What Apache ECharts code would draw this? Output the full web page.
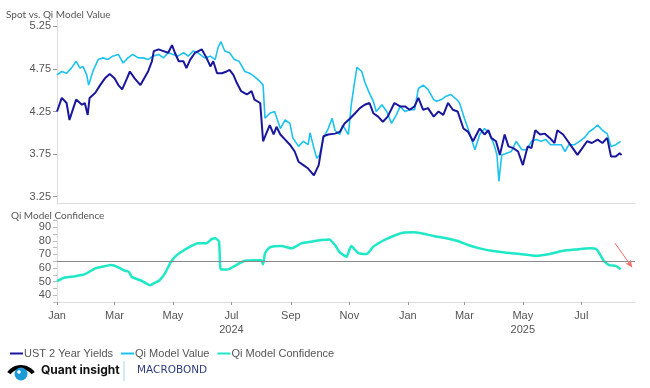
<!DOCTYPE html>
<html>
<head>
<meta charset="utf-8">
<script src="https://cdn.jsdelivr.net/npm/echarts@6/dist/echarts.min.js"></script>
<style>html,body{margin:0;padding:0;background:#fff}#c{width:650px;height:388px}</style>
</head>
<body>
<div id="c"></div>
<script>
// Days since 2024-01-01 and values
const ustDay = [0,5,10,13,17,20,26,29,32,34,40,45,50,55,60,64,68,73,76,81,87,90,95,99,101,106,111,116,120,123,127,132,135,139,144,151,156,160,163,167,172,177,180,184,187,192,198,203,206,212,215,219,222,226,229,233,238,243,248,252,257,262,268,273,278,283,290,295,300,306,311,316,321,326,330,335,340,345,352,358,363,368,373,377,382,387,393,398,403,408,413,418,424,429,434,441,446,450,453,458,462,467,471,476,481,486,491,495,499,504,509,514,519,522,528,533,538,543,548,553,558,564,569,574,578,583,587,589];
const ustVal = [4.25,4.41,4.35,4.15,4.29,4.39,4.33,4.35,4.21,4.41,4.47,4.56,4.64,4.69,4.64,4.56,4.51,4.64,4.72,4.64,4.56,4.62,4.72,4.84,4.96,4.98,4.96,4.94,5.03,4.94,4.84,4.84,4.76,4.86,4.94,4.98,4.88,4.78,4.84,4.70,4.70,4.72,4.74,4.68,4.60,4.49,4.45,4.49,4.39,4.35,3.90,4.01,4.09,3.98,4.07,3.98,3.92,3.86,3.78,3.66,3.62,3.58,3.50,3.62,3.96,3.98,3.99,4.01,4.11,4.17,4.23,4.29,4.33,4.35,4.23,4.19,4.13,4.19,4.35,4.31,4.31,4.27,4.31,4.41,4.27,4.29,4.19,4.25,4.21,4.35,4.27,4.25,4.05,4.01,3.90,4.05,3.98,4.03,3.94,3.90,3.74,3.98,3.84,3.82,3.78,3.62,3.84,3.82,4.03,3.98,3.99,3.94,3.88,4.03,3.98,3.90,3.82,3.74,3.82,3.90,3.88,3.92,3.88,3.94,3.72,3.72,3.76,3.74];

const qiDay = [0,5,10,15,20,24,27,31,33,38,43,48,53,58,64,69,74,79,85,90,95,100,106,111,116,121,126,132,137,142,147,154,160,165,168,171,175,180,185,190,196,201,206,212,215,217,222,227,233,238,243,246,252,257,262,264,268,271,274,278,283,287,290,295,298,304,307,310,313,318,321,325,330,333,339,344,349,354,358,363,368,373,377,382,387,393,396,401,406,411,417,420,425,430,436,441,446,451,456,459,461,464,469,474,479,485,490,495,500,505,510,515,521,526,530,534,540,545,550,555,560,564,569,574,578,583,588];
const qiVal = [4.68,4.72,4.70,4.76,4.84,4.76,4.78,4.68,4.56,4.74,4.86,4.88,4.86,4.90,4.92,4.82,4.88,4.92,4.88,4.88,4.86,4.90,4.92,4.88,4.94,4.92,4.90,4.94,4.90,4.96,4.94,4.88,4.90,4.86,5.00,5.07,4.96,4.94,4.86,4.84,4.72,4.70,4.66,4.60,4.56,4.17,4.23,4.25,4.05,4.15,4.11,3.94,3.84,3.90,3.86,4.00,3.82,3.70,3.74,3.94,4.05,4.17,4.03,3.98,4.09,3.98,4.33,4.56,4.77,4.72,4.60,4.49,4.37,4.25,4.33,4.25,4.11,4.21,4.31,4.25,4.27,4.27,4.52,4.56,4.51,4.39,4.37,4.39,4.43,4.45,4.39,4.35,4.17,4.01,3.80,3.98,4.05,3.99,3.86,3.74,3.43,3.74,3.76,3.78,3.90,3.80,3.80,3.90,3.92,3.90,3.92,3.86,3.86,3.86,3.78,3.86,3.86,3.90,3.94,4.01,4.05,4.09,4.03,3.99,3.84,3.86,3.90];

const confDay = [0,8,19,29,40,50,57,64,71,75,78,87,92,97,102,107,113,118,123,130,139,147,156,161,165,169,171,178,187,196,206,213,215,217,222,234,245,255,265,276,284,290,295,299,302,307,314,323,330,340,351,361,372,380,393,406,417,429,441,455,469,483,500,514,528,542,556,563,570,576,583,588];
const confVal = [50.3,53,54,55.5,59.7,61.4,62.2,60.5,58,57.2,53.5,51,49.1,47.4,49.1,51,56.5,63.4,68.3,72,75.7,78.2,78.2,81.1,81.9,79.4,59,59,62.2,65.4,65.8,65.8,62.7,70.8,75.2,76.2,74.5,78.2,79.4,80.6,81.1,77,71.5,69.5,68.3,76.2,71.2,70.3,75.7,80.1,83.6,86,86.3,85.6,83.6,81.9,80.1,77,74.5,72.5,71.2,70.3,69,70.3,72.7,73.7,74.5,73.7,65.8,62.2,61.6,59];

const confThreshold = 65;
const arrowFrom = [582, 78.4];
const arrowTo = [600, 60.5];

const topTicks = [3.25, 3.75, 4.25, 4.75, 5.25];
const monthNames = ['Jan','Feb','Mar','Apr','May','Jun','Jul','Aug','Sep','Oct','Nov','Dec'];
const yearLabelAt = {'2024-07': '2024', '2025-05': '2025'};
const nDays = 604;

const base = Date.UTC(2024, 0, 1);
const categories = [];
for (let i = 0; i < nDays; i++) {
  const d = new Date(base + i * 86400000);
  categories.push(d.toISOString().slice(0, 10));
}
function isTickDay(idx) {
  const s = categories[idx];
  const m = +s.slice(5, 7);
  return s.slice(8, 10) === '01' && (m % 2 === 1);
}
const pairs = (days, vals) => days.map((d, i) => [d, vals[i]]);

const C_UST = '#1a179e';
const C_QI = '#1ec2ef';
const C_CONF = '#1fe8c6';
const LBL = '#555';
const FONT = 'Liberation Sans, Arial, sans-serif';

const chart = echarts.init(document.getElementById('c'), null, {renderer: 'canvas'});
chart.setOption({
  animation: false,
  title: [
    {text: 'Spot vs. Qi Model Value', left: 1, top: 5, textStyle: {fontSize: 10, fontWeight: 'normal', color: '#555', fontFamily: 'Lato, Noto Sans, sans-serif'}},
    {text: 'Qi Model Confidence', left: 6, top: 206, textStyle: {fontSize: 10, fontWeight: 'normal', color: '#555', fontFamily: 'Lato, Noto Sans, sans-serif'}}
  ],
  grid: [
    {left: 57, right: 15, top: 20, height: 183},
    {left: 57, right: 15, top: 220.5, height: 81.5}
  ],
  legend: {
    left: 5, top: 343, itemWidth: 13, itemHeight: 2, itemGap: 8,
    icon: 'rect',
    textStyle: {fontSize: 11, color: LBL, fontFamily: FONT, padding: [0, 0, 0, -4]},
    data: ['UST 2 Year Yields', 'Qi Model Value', 'Qi Model Confidence']
  },
  xAxis: [
    {type: 'category', gridIndex: 0, data: categories, boundaryGap: false,
     axisLine: {show: true, lineStyle: {color: '#ddd'}}, axisTick: {show: false}, axisLabel: {show: false}, splitLine: {show: false}},
    {type: 'category', gridIndex: 1, data: categories, boundaryGap: false,
     axisLine: {show: true, lineStyle: {color: '#ddd'}},
     axisTick: {show: true, length: 3, lineStyle: {color: '#999'}, interval: (i) => isTickDay(i)},
     axisLabel: {show: true, interval: (i) => isTickDay(i), color: LBL, fontSize: 11, fontFamily: FONT, margin: 7, lineHeight: 14,
       formatter: (v) => {
         const m = +v.slice(5, 7);
         const name = monthNames[m - 1];
         const y = yearLabelAt[v.slice(0, 7)];
         return y ? name + '\n' + y : name;
       }},
     splitLine: {show: false}}
  ],
  yAxis: [
    {type: 'value', gridIndex: 0, min: 3.175, max: 5.325,
     axisLine: {show: true, lineStyle: {color: '#ddd'}},
     axisTick: {show: true, length: 4, lineStyle: {color: '#999'}, customValues: topTicks},
     axisLabel: {color: LBL, fontSize: 11, fontFamily: FONT, margin: 6, customValues: topTicks, formatter: (v) => v.toFixed(2)},
     splitLine: {show: false}},
    {type: 'value', gridIndex: 1, min: 35, max: 95, interval: 5,
     axisLine: {show: true, lineStyle: {color: '#ddd'}},
     axisTick: {show: true, length: 4, lineStyle: {color: '#bbb'}},
     axisLabel: {color: LBL, fontSize: 11, fontFamily: FONT, margin: 6, formatter: (v) => (v % 10 === 0 && v >= 40 && v <= 90) ? String(v) : ''},
     splitLine: {show: false}}
  ],
  series: [
    {name: 'Qi Model Value', type: 'line', xAxisIndex: 0, yAxisIndex: 0, data: pairs(qiDay, qiVal),
     showSymbol: false, symbol: 'none', lineStyle: {color: C_QI, width: 1.6}, itemStyle: {color: C_QI}, z: 2},
    {name: 'UST 2 Year Yields', type: 'line', xAxisIndex: 0, yAxisIndex: 0, data: pairs(ustDay, ustVal),
     showSymbol: false, symbol: 'none', lineStyle: {color: C_UST, width: 2}, itemStyle: {color: C_UST}, z: 3},
    {name: 'Qi Model Confidence', type: 'line', xAxisIndex: 1, yAxisIndex: 1, data: pairs(confDay, confVal),
     showSymbol: false, symbol: 'none', smooth: 0.2, lineStyle: {color: C_CONF, width: 2.5}, itemStyle: {color: C_CONF}, z: 3,
     markLine: {
       silent: true, symbol: 'none', animation: false,
       label: {show: false},
       data: [
         {yAxis: confThreshold, lineStyle: {color: '#8a8a8a', width: 1, type: 'solid'}},
         [
           {coord: arrowFrom, symbol: 'none', lineStyle: {color: '#f26b6b', width: 1, type: 'solid'}},
           {coord: arrowTo, symbol: 'arrow', symbolSize: [5, 7], lineStyle: {color: '#f26b6b', width: 1, type: 'solid'}}
         ]
       ]
     }}
  ],
  graphic: [
    // Quant insight eye logo
    {type: 'arc', shape: {cx: 21, cy: 382, r: 15, startAngle: Math.PI * 1.2, endAngle: Math.PI * 1.8}, style: {stroke: '#000', lineWidth: 4, fill: null}},
    {type: 'circle', shape: {cx: 21, cy: 374, r: 6.5}, style: {fill: '#1b9ad6'}},
    {type: 'circle', shape: {cx: 19, cy: 372, r: 1.8}, style: {fill: '#fff'}},
    {type: 'text', left: 41, top: 364, style: {text: 'Quant insight', fontSize: 12, fontWeight: 'bold', fill: '#111', fontFamily: 'Inter, Liberation Sans, sans-serif'}},
    {type: 'line', shape: {x1: 124, y1: 361, x2: 124, y2: 381}, style: {stroke: '#a9d4ec', lineWidth: 1}},
    {type: 'text', left: 137, top: 365, style: {text: 'MACROBOND', fontSize: 10.5, fill: '#2e3c7e', fontFamily: 'DejaVu Sans, sans-serif'}}
  ]
});
</script>
</body>
</html>
